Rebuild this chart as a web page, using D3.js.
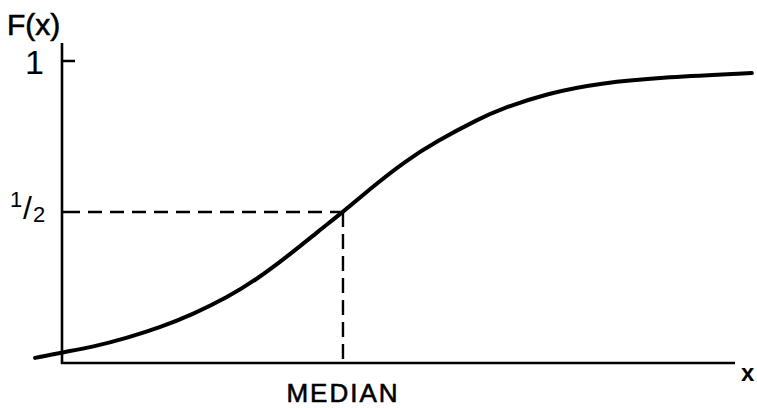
<!DOCTYPE html>
<html>
<head>
<meta charset="utf-8">
<script src="https://cdn.jsdelivr.net/npm/d3@7"></script>
<style>
  html, body { margin: 0; padding: 0; background: #fff; }
  svg { display: block; }
</style>
</head>
<body>
<div id="chart"></div>
<script>
// Courbe de répartition F(x) : valeurs
const xs = [-4, 0, 4.6, 9.7, 14.6, 19.5, 24.5, 29, 33.4, 38.3, 41.75, 45.8, 50.7, 55.7, 62.1, 65.1, 72.1, 79.9, 89.9, 102.5]
const fs = [0.017, 0.035, 0.053, 0.083, 0.118, 0.162, 0.216, 0.278, 0.351, 0.44, 0.5, 0.577, 0.664, 0.735, 0.81, 0.84, 0.893, 0.927, 0.947, 0.96]
const median = 41.75
const half = 0.5
const yTicks = [1, 0.5]

const W = 757, H = 408
const ink = "#000"
const font = "Liberation Sans, Arial, sans-serif"

const svg = d3.select("#chart").append("svg")
  .attr("width", W).attr("height", H)
  .attr("viewBox", `0 0 ${W} ${H}`)

// x : 0 → 100 sur la longueur de l'axe horizontal
const x = d3.scaleLinear().domain([0, 100]).range([62, 735])
const y = d3.scaleLinear().domain([0, 1]).range([363, 61])

// --- Axes (juste les traits, façon dessin) ---
svg.append("line")
  .attr("x1", x(0)).attr("x2", x(0)).attr("y1", 43).attr("y2", y(0) + 1)
  .attr("stroke", ink).attr("stroke-width", 2.6)
svg.append("line")
  .attr("x1", x(0) - 1).attr("x2", x(100)).attr("y1", y(0)).attr("y2", y(0))
  .attr("stroke", ink).attr("stroke-width", 2.6)

// Graduations (la 1/2 est courte, le pointillé prend le relais)
svg.selectAll("line.tick").data(yTicks).join("line")
  .attr("class", "tick")
  .attr("x1", x(0)).attr("x2", d => x(0) + (d === 1 ? 13 : 4))
  .attr("y1", d => y(d)).attr("y2", d => y(d))
  .attr("stroke", ink).attr("stroke-width", 2.5)

svg.append("text")
  .attr("x", 44).attr("y", y(1) + 13)
  .attr("text-anchor", "end")
  .attr("font-family", font).attr("font-size", 34)
  .attr("fill", ink)
  .text("1")

// « 1/2 » manuscrit : 1 en haut, barre, 2 en bas
const h = svg.append("text")
  .attr("font-family", font).attr("fill", ink)
h.append("tspan").attr("x", 10).attr("y", 207).attr("font-size", 22).text("1")
h.append("tspan").attr("x", 23).attr("y", 219).attr("font-size", 32).text("/")
h.append("tspan").attr("x", 33).attr("y", 222).attr("font-size", 22).text("2")

// --- Pointillés médiane ---
svg.append("line")
  .attr("x1", x(0) + 4).attr("x2", x(median)).attr("y1", y(half)).attr("y2", y(half))
  .attr("stroke", ink).attr("stroke-width", 2.4).attr("stroke-dasharray", "14 8")
svg.append("line")
  .attr("x1", x(median)).attr("x2", x(median)).attr("y1", y(half)).attr("y2", y(0))
  .attr("stroke", ink).attr("stroke-width", 2.4).attr("stroke-dasharray", "15 7")

// --- Courbe (B-spline : lisse les petites erreurs de relevé) ---
const line = d3.line()
  .x((d, i) => x(xs[i])).y(d => y(d))
  .curve(d3.curveBasis)

svg.append("path")
  .datum(fs)
  .attr("d", line)
  .attr("fill", "none").attr("stroke", ink).attr("stroke-width", 4)
  .attr("stroke-linecap", "round").attr("stroke-linejoin", "round")

// --- Textes ---
svg.append("text")
  .attr("x", 7).attr("y", 35)
  .attr("font-family", font).attr("font-size", 30).attr("fill", ink)
  .attr("stroke", ink).attr("stroke-width", 0.6)
  .text("F(x)")

svg.append("text")
  .attr("x", x(median)).attr("y", 402)
  .attr("text-anchor", "middle")
  .attr("font-family", font).attr("font-size", 26).attr("letter-spacing", 2)
  .attr("fill", ink).attr("stroke", ink).attr("stroke-width", 0.6)
  .text("MEDIAN")

svg.append("text")
  .attr("x", 741).attr("y", 381)
  .attr("font-family", font).attr("font-size", 24).attr("font-weight", "bold")
  .attr("fill", ink)
  .text("x")
</script>
</body>
</html>
